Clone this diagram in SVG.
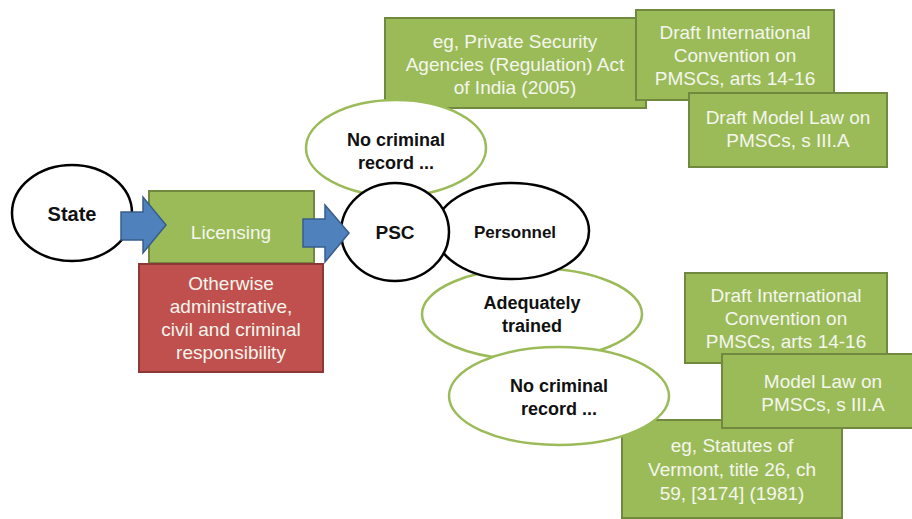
<svg xmlns="http://www.w3.org/2000/svg" width="912" height="519" viewBox="0 0 912 519">
<style>
.gbox{fill:#9BBB59;stroke:#71893F;stroke-width:2}
.gtxt{font-family:"Liberation Sans",Arial,sans-serif;font-size:19px;fill:#F4F6EE;text-anchor:middle}
.bell{fill:#FFFFFF;stroke:#000000;stroke-width:2.5}
.gell{fill:#FFFFFF;stroke:#9BBB59;stroke-width:2.5}
.btxt{font-family:"Liberation Sans",Arial,sans-serif;font-weight:bold;fill:#111111;text-anchor:middle}
.arrow{fill:#4F81BD;stroke:#385D8A;stroke-width:1.5}
</style>
<rect width="912" height="519" fill="#FFFFFF"/>
<g id="india-act">
<rect class="gbox" x="385" y="18" width="261" height="90"/>
<text class="gtxt" x="515" y="48">eg, Private Security</text>
<text class="gtxt" x="515" y="71">Agencies (Regulation) Act</text>
<text class="gtxt" x="515" y="94">of India (2005)</text>
</g>
<g id="draft-convention-top">
<rect class="gbox" x="636" y="10" width="198" height="90"/>
<text class="gtxt" x="735" y="39">Draft International</text>
<text class="gtxt" x="735" y="62">Convention on</text>
<text class="gtxt" x="735" y="85">PMSCs, arts 14-16</text>
</g>
<g id="draft-model-law-top">
<rect class="gbox" x="689" y="93" width="198" height="74"/>
<text class="gtxt" x="788" y="124">Draft Model Law on</text>
<text class="gtxt" x="788" y="147">PMSCs, s III.A</text>
</g>
<g id="no-criminal-top">
<ellipse class="gell" cx="396" cy="148" rx="90" ry="48"/>
<text class="btxt" x="396" y="146" font-size="18">No criminal</text>
<text class="btxt" x="396" y="169" font-size="18">record ...</text>
</g>
<g id="draft-convention-bottom">
<rect class="gbox" x="685" y="273" width="202" height="90"/>
<text class="gtxt" x="786" y="302">Draft International</text>
<text class="gtxt" x="786" y="325">Convention on</text>
<text class="gtxt" x="786" y="348">PMSCs, arts 14-16</text>
</g>
<g id="vermont">
<rect class="gbox" x="622" y="420" width="220" height="98"/>
<text class="gtxt" x="732" y="452">eg, Statutes of</text>
<text class="gtxt" x="732" y="476">Vermont, title 26, ch</text>
<text class="gtxt" x="732" y="500">59, [3174] (1981)</text>
</g>
<g id="model-law-bottom">
<rect class="gbox" x="722" y="354" width="200" height="74"/>
<text class="gtxt" x="823" y="388">Model Law on</text>
<text class="gtxt" x="823" y="411">PMSCs, s III.A</text>
</g>
<g id="adequately-trained">
<ellipse class="gell" cx="532" cy="314" rx="110" ry="46"/>
<text class="btxt" x="532" y="309" font-size="18">Adequately</text>
<text class="btxt" x="532" y="332" font-size="18">trained</text>
</g>
<g id="no-criminal-bottom">
<ellipse class="gell" cx="559" cy="396" rx="110" ry="49"/>
<text class="btxt" x="559" y="392" font-size="18">No criminal</text>
<text class="btxt" x="559" y="415" font-size="18">record ...</text>
</g>
<g id="personnel">
<ellipse class="bell" cx="512" cy="231" rx="77" ry="48"/>
<text class="btxt" x="515" y="238" font-size="17">Personnel</text>
</g>
<g id="psc">
<ellipse class="bell" cx="395" cy="232" rx="54" ry="49"/>
<text class="btxt" x="395" y="239" font-size="19">PSC</text>
</g>
<g id="state">
<ellipse class="bell" cx="72" cy="213" rx="60" ry="48"/>
<text class="btxt" x="72" y="221" font-size="20">State</text>
</g>
<g id="licensing">
<rect class="gbox" x="149" y="191" width="165" height="72"/>
<text class="gtxt" x="231" y="239" font-size="21">Licensing</text>
</g>
<g id="responsibility">
<rect x="139" y="264" width="184" height="108" fill="#C0504D" stroke="#8C3836" stroke-width="2"/>
<text class="gtxt" x="231" y="290">Otherwise</text>
<text class="gtxt" x="231" y="313">administrative,</text>
<text class="gtxt" x="231" y="336">civil and criminal</text>
<text class="gtxt" x="231" y="359">responsibility</text>
</g>
<g id="connectors">
<polygon class="arrow" points="121,212 143,212 143,197 166,225 143,253 143,240 121,240"/>
<polygon class="arrow" points="303,219 325,219 325,205 349,233 325,262 325,247 303,247"/>
</g>
</svg>
